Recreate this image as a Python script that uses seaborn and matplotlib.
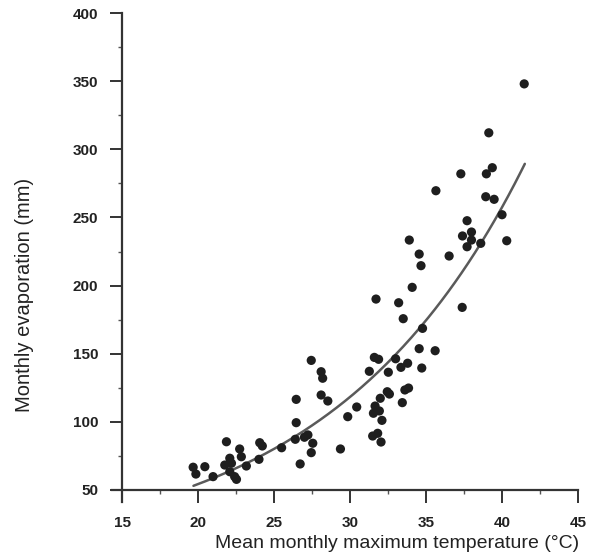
import matplotlib
matplotlib.use("Agg")
import matplotlib.pyplot as plt
import numpy as np
import pandas as pd
import seaborn as sns
from matplotlib.ticker import MultipleLocator

# data
temperature = [41.46, 39.13, 39.36, 38.97, 37.29, 35.65, 38.93, 39.48, 37.70, 37.40,
               37.99, 37.99, 37.70, 33.90, 34.55, 34.67, 36.52, 40.31, 40.00, 38.60,
               31.71, 34.09, 33.20, 33.50, 37.38, 34.77, 34.55, 35.60, 27.45, 31.60,
               31.88, 33.00, 28.10, 28.20, 31.27, 33.35, 33.79, 32.52, 34.72, 26.46,
               28.10, 28.54, 30.44, 31.99, 32.45, 32.59, 33.61, 33.85, 33.44, 31.65,
               31.54, 31.93, 29.85, 32.10, 26.46, 31.49, 31.82, 32.04, 29.37, 27.45,
               27.23, 27.00, 27.55, 26.40, 25.50, 26.72, 24.06, 24.23, 24.01, 21.87,
               22.74, 22.85, 22.09, 22.20, 21.76, 23.18, 22.09, 22.41, 22.53, 20.99,
               20.45, 19.68, 19.86]
evaporation = [348.0, 312.1, 286.5, 282.0, 282.0, 269.6, 265.2, 263.3, 247.6, 236.4,
               239.3, 233.4, 228.5, 233.4, 223.1, 214.6, 221.7, 232.9, 252.0, 231.0,
               190.1, 198.7, 187.4, 175.7, 184.0, 168.6, 153.7, 152.2, 145.1, 147.3,
               145.9, 146.3, 136.8, 132.0, 137.1, 140.0, 143.0, 136.4, 139.5, 116.5,
               119.7, 115.3, 110.9, 117.3, 122.1, 120.4, 123.4, 124.8, 114.1, 111.6,
               106.3, 108.0, 103.8, 101.1, 99.4, 89.6, 91.6, 85.2, 80.1, 77.4,
               90.4, 88.7, 84.3, 87.2, 81.0, 69.1, 84.7, 82.3, 72.5, 85.4,
               80.1, 74.4, 73.3, 69.6, 68.3, 67.6, 63.4, 59.8, 57.8, 59.8,
               67.1, 66.7, 61.7]

# fitted exponential curve E = a * exp(b * T)
fit_a, fit_b = 11.46, 0.0778
fit_range = (19.7, 41.5)

x_ticks = [15, 20, 25, 30, 35, 40, 45]
y_ticks = [50, 100, 150, 200, 250, 300, 350, 400]

df = pd.DataFrame({"temp": temperature, "evap": evaporation})
t_fit = np.linspace(fit_range[0], fit_range[1], 200)
curve = pd.DataFrame({"temp": t_fit, "evap": fit_a * np.exp(fit_b * t_fit)})

sns.set_theme(style="ticks")
plt.rcParams["font.family"] = ["Liberation Sans", "DejaVu Sans"]

fig = plt.figure(figsize=(5.9, 5.59), dpi=100)
ax = fig.add_axes([0.1898, 0.102, 0.7899, 0.8747])

sns.lineplot(data=curve, x="temp", y="evap", ax=ax, color="#5a5a5a", linewidth=1.8)
sns.scatterplot(data=df, x="temp", y="evap", ax=ax, color="#1e1e1e", s=44,
                edgecolor="none", zorder=3)

# axes cross at (15, 50) like the original figure
ax.set_xlim(14.34, 45)
ax.set_ylim(41.2, 400)
ax.spines["left"].set_position(("data", 15))
ax.spines["bottom"].set_position(("data", 50))
ax.set_xticks(x_ticks)
ax.set_yticks(y_ticks)
ax.xaxis.set_minor_locator(MultipleLocator(2.5))
ax.yaxis.set_minor_locator(MultipleLocator(25))

for side in ["top", "right"]:
    ax.spines[side].set_visible(False)
for side in ["left", "bottom"]:
    ax.spines[side].set_color("#333333")
    ax.spines[side].set_linewidth(1.6)

ax.tick_params(axis="both", which="major", length=9, width=1.4, color="#333333",
               labelsize=11, labelcolor="#222222")
ax.tick_params(axis="both", which="minor", length=3, width=1.0, color="#555555")
ax.tick_params(axis="x", which="major", pad=10)
ax.tick_params(axis="y", which="major", pad=8)
for lab in ax.get_xticklabels() + ax.get_yticklabels():
    lab.set_fontweight("bold")

ax.set_xlabel("Mean monthly maximum temperature (°C)", fontsize=14, color="#222222")
ax.xaxis.set_label_coords(0.612, -0.068)
ax.set_ylabel("Monthly evaporation (mm)", fontsize=14.5, color="#222222")
ax.yaxis.set_label_coords(-0.168, 0.423)

fig.savefig("out.png", dpi=100, facecolor="white")
